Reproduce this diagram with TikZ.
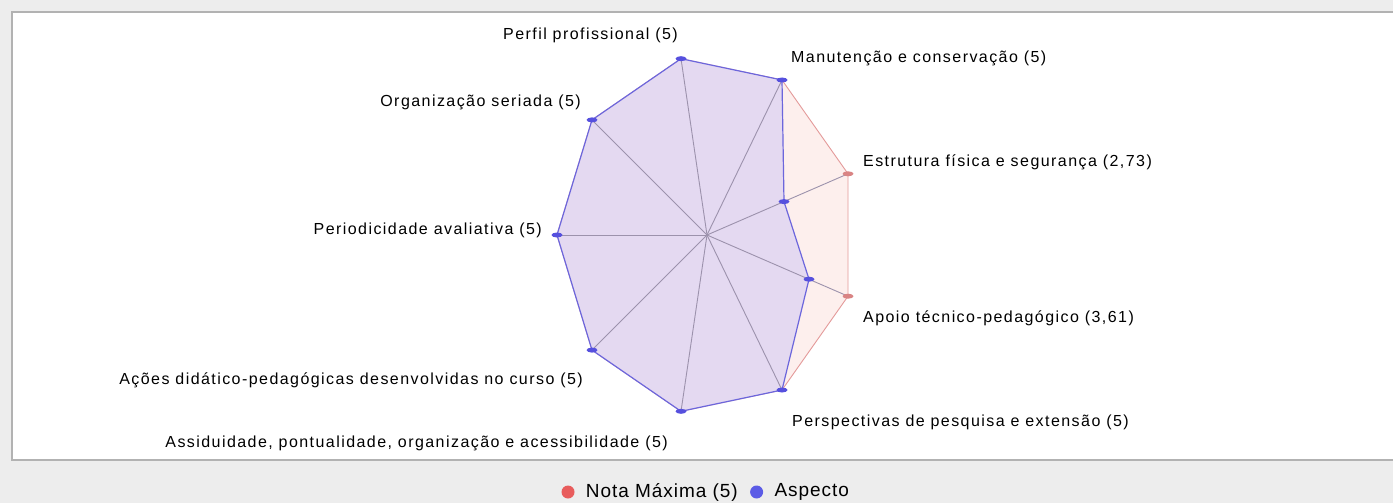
\documentclass[tikz,border=0pt]{standalone}
\usepackage{fontspec}
\setmainfont{Liberation Sans}[LetterSpace=9]
\newfontfamily\legfont{Liberation Sans}[LetterSpace=5]
\usetikzlibrary{positioning,shapes.geometric}
\definecolor{bggray}{HTML}{EDEDED}
\definecolor{framegray}{HTML}{B2B2B2}
\definecolor{maxfill}{HTML}{FDEFED}
\definecolor{maxline}{HTML}{E49A9A}
\definecolor{aspfill}{HTML}{E4D9F1}
\definecolor{aspline}{HTML}{6C66DC}
\definecolor{spokegray}{HTML}{9C92AC}
\definecolor{markblue}{HTML}{5650DE}
\definecolor{markred}{HTML}{D98484}
\definecolor{legred}{HTML}{E85C5C}
\definecolor{legblue}{HTML}{5B5BE6}
\tikzset{
  lbl/.style={inner sep=0pt, font=\fontsize{16}{18}\selectfont},
  legtext/.style={inner sep=0pt, font=\legfont\fontsize{19}{21}\selectfont},
  legdot/.style={circle, inner sep=0pt, minimum size=13pt},
  spoke/.style={draw=spokegray, line width=0.9pt},
  maxarea/.style={fill=maxfill, draw=maxline, line width=0.9pt},
  asparea/.style={fill=aspfill},
  aspedge/.style={draw=aspline, line width=1.2pt, line join=round},
  bmark/.style={ellipse, fill=markblue, inner sep=0pt, minimum width=11pt, minimum height=5pt},
  rmark/.style={ellipse, fill=markred, inner sep=0pt, minimum width=11pt, minimum height=5pt}
}

\begin{document}
\begin{tikzpicture}[x=1pt,y=-1pt]
\useasboundingbox (0,0) rectangle (1393,503);
\fill[bggray] (0,0) rectangle (1393,503);
\fill[white] (12,12) rectangle (1400,460);
\draw[framegray, line width=1.2pt] (1400,12) -- (12,12) -- (12,460) -- (1400,460);

% points of the chart
\coordinate (cen) at (707,235);
\coordinate (perfil) at (681,58.7);
\coordinate (manut) at (782,80);
\coordinate (estrM) at (848,173.8);
\coordinate (estrA) at (784,201.6);
\coordinate (apoioM) at (848,296.2);
\coordinate (apoioA) at (809,279.2);
\coordinate (persp) at (782,390);
\coordinate (assid) at (681,411.3);
\coordinate (acoes) at (592,350.1);
\coordinate (period) at (557,235);
\coordinate (organ) at (592,119.9);

% nota maxima
\path[maxarea] (perfil) -- (manut) -- (estrM) -- (apoioM) -- (persp) -- (assid) -- (acoes) -- (period) -- (organ) -- cycle;
% aspecto
\path[asparea] (perfil) -- (manut) -- (estrA) -- (apoioA) -- (persp) -- (assid) -- (acoes) -- (period) -- (organ) -- cycle;

\draw[spoke] (cen) -- (perfil);
\draw[spoke] (cen) -- (manut);
\draw[spoke] (cen) -- (estrM);
\draw[spoke] (cen) -- (apoioM);
\draw[spoke] (cen) -- (persp);
\draw[spoke] (cen) -- (assid);
\draw[spoke] (cen) -- (acoes);
\draw[spoke] (cen) -- (period);
\draw[spoke] (cen) -- (organ);

\path[aspedge] (perfil) -- (manut) -- (estrA) -- (apoioA) -- (persp) -- (assid) -- (acoes) -- (period) -- (organ) -- cycle;

\node[rmark] (kEstrM) at (estrM) {};
\node[rmark] (kApoioM) at (apoioM) {};
\node[bmark] (kPerfil) at (perfil) {};
\node[bmark] (kManut) at (manut) {};
\node[bmark] (kEstrA) at (estrA) {};
\node[bmark] (kApoioA) at (apoioA) {};
\node[bmark] (kPersp) at (persp) {};
\node[bmark] (kAssid) at (assid) {};
\node[bmark] (kAcoes) at (acoes) {};
\node[bmark] (kPeriod) at (period) {};
\node[bmark] (kOrgan) at (organ) {};

% labels
\node[lbl, anchor=east] (tPerfil) at (678,35) {Perfil profissional (5)};
\node[lbl, anchor=west] (tManut) at (791,58) {Manutenção e conservação (5)};
\node[lbl, anchor=west] (tEstr) at (863,162) {Estrutura física e segurança (2,73)};
\node[lbl, anchor=west] (tApoio) at (863,318) {Apoio técnico-pedagógico (3,61)};
\node[lbl, anchor=west] (tPersp) at (792,422) {Perspectivas de pesquisa e extensão (5)};
\node[lbl, anchor=east] (tAssid) at (668,443) {Assiduidade, pontualidade, organização e acessibilidade (5)};
\node[lbl, anchor=east] (tAcoes) at (583,380) {Ações didático-pedagógicas desenvolvidas no curso (5)};
\node[lbl, anchor=east] (tPeriod) at (542,230) {Periodicidade avaliativa (5)};
\node[lbl, anchor=east] (tOrgan) at (581,102) {Organização seriada (5)};

% legend
\node[legdot, fill=legred] (dMax) at (568,492) {};
\node[legtext, right=11pt of dMax] (tMax) {Nota Máxima (5)};
\node[legdot, fill=legblue, right=12pt of tMax] (dAsp) {};
\node[legtext, right=11pt of dAsp] (tAsp) {Aspecto};
\end{tikzpicture}
\end{document}
